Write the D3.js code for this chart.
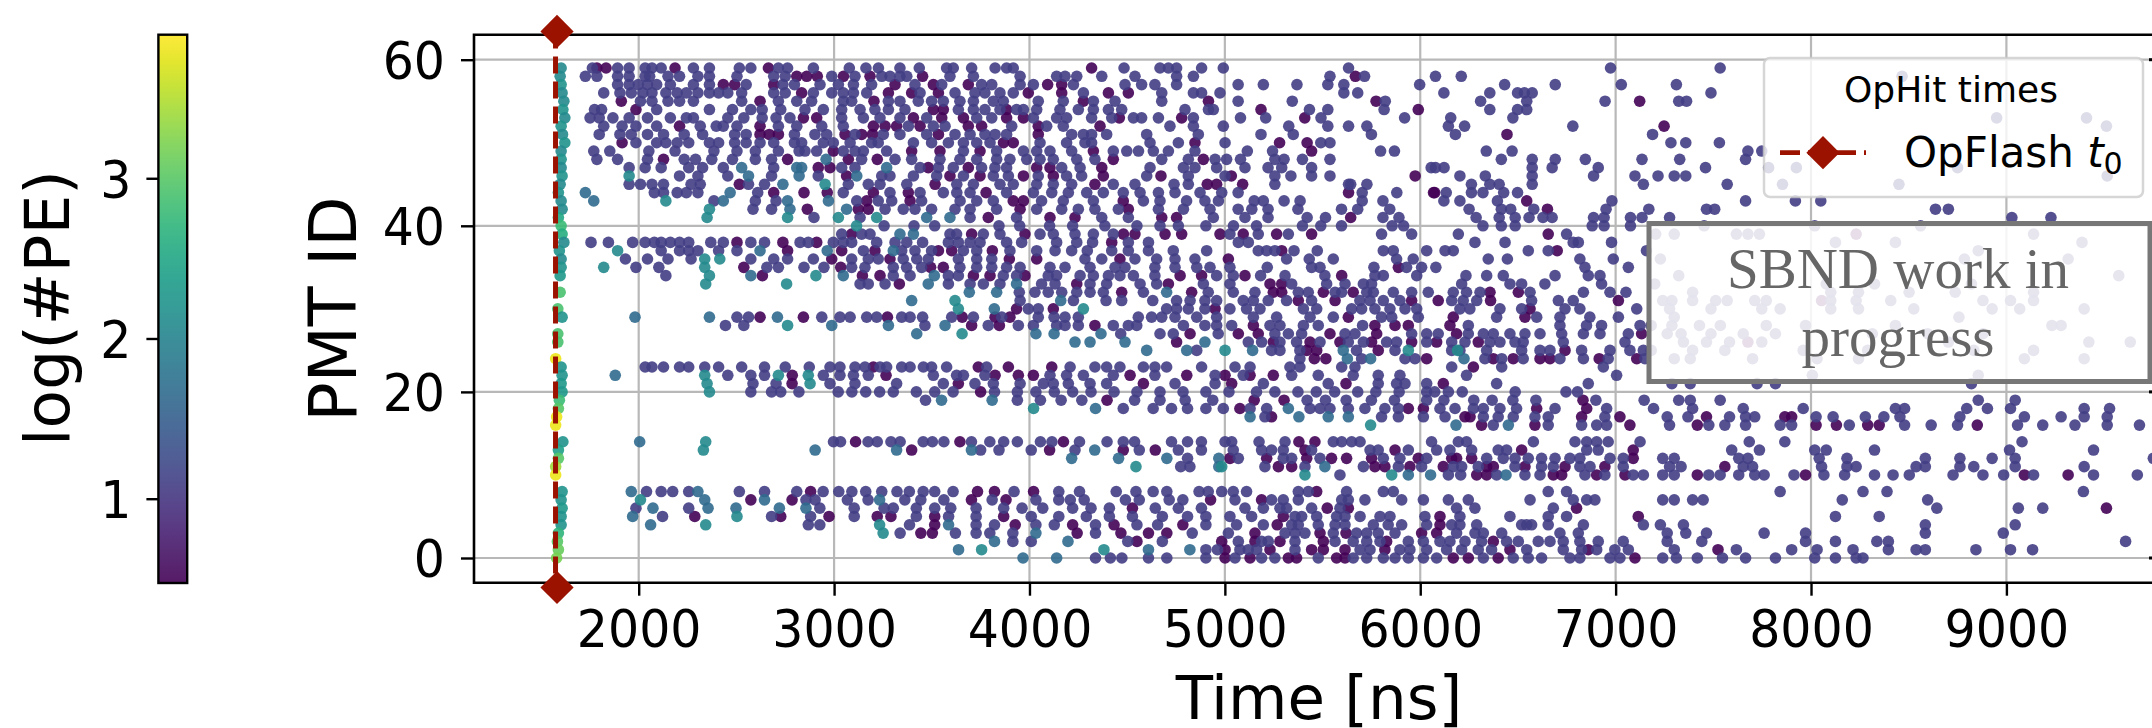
<!DOCTYPE html>
<html><head><meta charset="utf-8">
<script src="https://cdn.jsdelivr.net/npm/d3@7"></script>
<style>html,body{margin:0;padding:0;background:#fff}svg{display:block}text{font-family:"DejaVu Sans";fill:#000}</style>
</head><body><svg id="c" width="2152" height="728"></svg>
<script>
// [PMT id, hit times in ns...]
const mainHits = [
[59,1763,1892,1951,2033,2068,2115,2280,2362,2515,2574,2715,2762,2894,3078,3163,3227,3337,3436,3576,3610,3704,3824,3883,3917,4484,4668,4711,4753,4881,4992,5633,6974,7535],
[58,1727,1786,1892,1951,2033,2056,2150,2209,2303,2362,2503,2691,2750,2988,3107,3244,3286,3337,3372,3593,3713,3952,4139,4182,4242,4370,4540,4753,4839,5538,5715,6078,6210,8466],
[57,1892,1951,1998,2045,2092,2162,2280,2362,2550,2738,2797,2928,3022,3099,3192,3414,3551,3755,3807,3952,4020,4225,4489,4574,4642,4753,5068,5197,5369,5527,5609,5997,6432,6691,7029,7311],
[56,1821,1904,1962,2021,2068,2139,2197,2244,2303,2362,2409,2456,2527,2691,2750,2894,2988,3047,3099,3167,3440,3619,3721,3772,3849,3917,4276,4677,4839,4881,4975,5609,5680,6121,6356,6498,6533,6573,7488],
[55,2009,2068,2150,2209,2280,2527,2715,2809,2885,3047,3090,3278,3337,3431,3499,3559,3644,3713,3815,3866,4045,4173,4327,4438,4677,5068,5345,5821,6309,6545,6946,7323,7363],
[54,1774,1810,2092,2362,2480,2574,2632,2727,2851,2945,3039,3133,3209,3278,3363,3636,3713,3772,3849,3934,3969,4037,4156,4250,4327,4404,4472,4796,4916,4941,5433,5527,5815,6356,6498,6545],
[53,1751,1798,1868,1951,2045,2162,2244,2280,2456,2538,2632,2703,2774,3039,3150,3235,3337,3474,3730,3807,4020,4139,4190,4318,4421,4532,4574,4660,4839,5080,5209,5492,5920,6156,6474,8950,9410],
[52,1821,1915,1986,2092,2315,2397,2433,2503,2715,2809,2937,3047,3380,3508,3568,3909,4088,4173,4719,4839,4992,5327,5527,5633,5727,6144,6227,6781,9512],
[51,1798,1904,1962,2045,2127,2233,2327,2491,2550,2797,2902,2962,3107,3252,3337,3474,3619,3696,3772,3824,3883,4216,4276,4318,4395,4600,4864,5185,5350,5750,6180,7189],
[50,1986,2092,2139,2197,2256,2362,2409,2491,2550,2621,2691,2797,2834,2945,2996,3082,3192,3226,3406,3499,3585,3662,3730,3798,4054,4190,4284,4318,4617,4762,5001,5538,5491,7283,7359,7531],
[49,1770,1852,2052,2186,2385,2503,2597,2715,2821,2851,2911,3047,3107,3150,3269,3662,3832,3969,4037,4105,4216,4429,4498,4558,4634,4711,4847,5115,5244,5797,5868,6338,6470,7677,7748],
[48,1786,1892,2045,2233,2291,2374,2480,2597,2680,3141,3312,3397,3542,3644,3730,3832,3900,3986,4054,4122,4242,4335,4677,4813,4950,5009,5080,5256,5303,5397,5538,6415,6573,6691,6845,7135,7328,7665],
[47,1951,2033,2115,2256,2327,2433,2691,3039,3107,3440,3534,3610,3755,3823,3883,4165,4259,4617,4788,4847,4958,5103,5221,5291,5444,6056,6078,6122,6573,6675,6911,7460,7783,7925,8750],
[46,2209,2303,2456,2680,2919,3244,3286,3406,3525,3662,3815,3892,4045,4190,4267,4600,4813,5001,5256,5338,5444,5538,6203,6333,6573,6887,7099,7217,7300,7359,9516],
[45,1951,2009,2068,2127,2268,2315,2562,2644,3073,3175,3235,3372,3628,3713,3849,3917,4037,4122,4216,4429,4540,4740,4813,5256,5633,5727,5644,6262,6356,6404,6573,7142,7571,7854,8450],
[44,2080,2127,2197,2244,2303,2609,3047,3286,3440,3559,3628,3696,3883,4020,4114,4199,4293,4378,4480,4566,4660,4745,4873,4984,5068,5703,5880,6133,6262,6321,6427,6498],
[43,2385,2597,2703,3116,3226,3295,3448,3645,3730,3815,4062,4173,4327,4583,4668,4804,4898,4967,5150,5197,5303,5385,5703,5809,6121,6203,6395,6981,7665,7920,8050],
[42,2585,2680,3261,3354,3414,3499,3619,3696,3832,4037,4165,4250,4335,4455,4660,4788,4924,5068,5138,5221,5374,5597,5680,5844,6250,6415,6463,6581,6951,7170,7465,7507,8637,8703],
[41,2897,3133,3696,3934,4370,4506,4941,5103,5221,5421,5515,5809,5891,6286,6404,6486,6557,6628,6675,6887,6941,7076,7135,7276,9028,9228],
[40,3256,3409,3515,3844,3950,4103,4221,4386,4550,4668,4762,4903,5044,5162,5397,5491,5597,5856,5915,6321,6415,6486,6880,6941,7076,7453,8019,8561],
[39,3039,3141,3184,3593,3627,3764,3849,4054,4122,4233,4327,4429,5026,5171,5325,5802,5956,6195,6749,7205,7300,7618,7677,7736,9139],
[38,1756,1845,1969,2033,2080,2115,2162,2209,2256,2369,2433,2574,2644,2826,2868,2996,3047,3090,3218,3312,3372,3453,3585,3636,3696,3747,3883,3960,4139,4242,4323,4506,4609,5069,5120,6280,6434,6783,6809,6979,8125,8432,9387],
[37,2115,2209,2256,2303,2409,2503,3150,3346,3414,3499,3662,3730,3900,4037,4131,4216,4296,4421,4506,4609,4736,4907,5171,5214,5256,5354,5473,5811,5862,6033,6127,6169,6553,6655,7158,8856],
[36,1932,2045,2150,2268,2574,2691,2762,2894,3090,3175,3226,3354,3423,3482,3636,3730,3807,4284,4370,4540,4651,4745,4847,5316,5432,5555,5879,5964,6348,6446,6817,6988,7229,8785,9316],
[35,1986,2103,2656,2715,2846,2948,3090,3158,3303,3371,3448,3644,3730,3807,3883,3952,4105,4182,4310,4438,4489,4642,4745,4856,4924,5026,5217,5444,5487,5763,5930,6007,6080,6843,7065],
[34,2139,3303,3389,3585,3636,3866,3934,4096,4139,4259,4327,4404,4463,4532,4642,4958,5043,5183,5308,5512,5768,5811,5982,6234,6340,6425,6690,6860,6920,7323,9575],
[33,3133,3175,3261,3585,3696,3764,3849,4062,4131,4310,4395,4566,4651,4890,5026,5342,5521,5615,5709,5751,6212,6459,6519,6638,6928,7200,8078,8325,8821],
[32,3948,4028,4096,4165,4242,4310,4378,4583,4915,5043,5154,5376,5427,5564,5598,5726,5760,5862,5956,6041,6169,6237,6306,6562,6835,6971,7053,7394,8101,8243,8502,8738,9139],
[31,3952,4225,4392,4472,4631,4753,4822,4898,4958,5094,5146,5222,5316,5444,5691,5743,5811,5896,6161,6220,6289,6570,6707,6783,7241,7288,7394,7512,7571,7712,7771,8101,8231,8408,8880,9021,9139],
[30,3994,4045,4702,4753,4813,4898,5026,5111,5180,5402,5470,5649,5700,5768,5845,5922,5982,6203,6254,6408,6519,6741,6817,7108,7276,7488,7748,7842,8101,8243,8526,8927,9068,9398],
[29,2503,2562,2937,3030,3082,3167,3218,3346,3389,3453,3602,3713,3858,4045,4126,4182,4250,4557,4625,4677,4745,4856,4958,5146,5265,5436,5555,5802,5854,5990,6391,6596,6715,6868,7014,7300,8757],
[28,2444,2538,3465,3789,3943,4020,4139,4182,4250,4429,4506,4549,4788,4898,4958,5035,5231,5282,5402,5478,5705,6246,6715,6851,6928,7125,7182,7288,7429,7536,7771,7972,8432,9233,9280],
[27,4467,4668,4736,4966,5256,5325,5393,5615,5666,5956,6033,6092,6246,6323,6374,6459,6536,6613,6724,6835,6920,7065,7264,7335,7488,7653,7818,8314,8597,8880],
[26,5120,5188,5282,5367,5487,5632,5709,5828,5879,6033,6161,6229,6357,6408,6485,6527,6732,7048,7347,7465,7583,7748,8703,9422,9634],
[25,4856,5239,5282,5384,5674,5871,6161,6203,6340,6519,6613,6664,6826,6971,7073,7142,7182,7394,7559,7960,8290,8833,9139],
[24,5384,5700,5922,5973,6331,6417,6527,6715,6835,6962,7150,7300,7382,7701,8031,8243,9092,9398],
[23,2033,2068,2127,2209,2256,2338,2409,2527,2644,2750,2873,2979,3030,3107,3158,3235,3269,3346,3389,3457,3499,3576,3781,4208,4335,4395,4463,4583,4642,4702,4881,5052,5129,5333,5384,5598,5666,6161,6417,6937],
[22,2456,2574,2644,2945,3030,3099,3175,3508,3627,3662,3772,4105,4190,4276,4429,4642,4950,5094,5342,5478,5657,5785,5896,6237,7005,8007,8856],
[21,2585,2703,2979,3107,3320,3559,3721,3815,3952,4071,4122,4199,4310,4395,4745,4950,5197,5529,5785,5879,5922,6033,6391,6860,7288,7382,7724,7818,8821],
[20,2574,2680,2727,2820,3021,3091,3162,3233,3303,3421,3515,3609,3821,3938,4033,4127,4221,4315,4433,4550,4668,4786,4903,5021,5162,5256,5374,5468,5562,5680,5773,5892,6033,6074,6144,6215,6486,6746,6805],
[19,3468,3938,4056,4162,4268,4538,4668,4797,4938,5421,5515,5621,5750,5868,6033,6121,6274,6368,6474,6592,6899,7146,7323,7382,7535,8856,9045],
[18,4480,4633,4727,4809,4903,4992,5129,5214,5436,5487,5538,5632,5717,5819,5888,6101,6178,6272,6323,6408,6493,6690,6954,7194,7394,7653,7960,8432,8479,8797,8903,9021,9398,9528],
[17,5205,5802,5888,6016,6127,6323,6399,6476,6587,6655,6945,7264,7370,7583,7665,7712,8026,8113,8278,8373,8455,8762,9092,9280,9398,9516],
[16,6374,6655,6826,6903,6954,7276,7477,7559,7665,7842,7901,8196,8479,8615,8750,9057,9186,9351,9516,9681],
[14,2997,3033,3174,3221,3291,3338,3456,3503,3562,3703,3797,3868,3938,4056,4115,4256,4397,4480,4538,4727,4809,4880,5001,5035,5175,5308,5555,5598,5649,5692,6058,6195,6237,6579,6792,6852,6903,6962,7125,7684,7866,9080],
[13,3750,3844,4009,4233,4562,4762,4880,5043,5188,5239,5299,5444,5743,5785,5939,6084,6152,6263,6399,6442,6852,6911,7594,7736,8019,8078,8325,9016,9446],
[12,4809,5069,5299,5342,5487,5811,5896,6033,6340,6425,6485,6553,6621,6690,6766,6817,6971,7039,7241,7300,7630,7677,8042,8184,8585,8762,8927,9045,9752],
[11,4774,4821,5205,5410,5709,5888,6007,6169,6212,6297,6485,6621,6681,6817,6869,7039,7276,7335,7653,7701,8054,8184,8231,8538,8585,8762,8833,9045,9398],
[10,5589,6144,6207,6391,6536,6613,6843,6945,7090,7142,7241,7300,7477,7535,7630,7712,7760,7913,8066,8172,8325,8420,8503,8727,8880,8986,9139,9446,9670],
[8,2040,2115,2174,2256,2515,2644,2809,2944,3024,3091,3162,3244,3322,3385,3456,3515,3609,3921,4150,4256,4444,4545,4633,4703,4868,4915,4984,5043,5111,5376,5427,5623,5811,5862,6655,6749,7842,8266,8389,9394],
[7,2856,2903,3068,3174,3362,3444,3562,3809,4033,4150,4209,4280,4491,4562,4715,4785,5052,5239,5299,5376,5598,5632,5717,5905,6016,6144,6246,6562,6783,6852,6894,7241,7300,7394,7448,8160,8597],
[6,1986,2256,2927,3103,3256,3303,3421,3515,3597,3727,3868,3962,4068,4221,4315,4409,4644,4762,4880,5103,5197,5282,5316,5444,5589,6186,6280,6681,8644,9061,9186],
[5,2122,2680,2880,3103,3421,3586,3727,4009,4150,4291,4409,4527,4680,4809,4903,5026,5137,5359,5393,5470,5572,5615,5692,5794,5845,6024,6203,6459,6655,6749,8125,8349],
[4,2868,2927,3386,3727,3821,4033,4127,4338,4550,4656,4903,5060,5197,5342,5376,5478,5564,5615,5760,5836,5905,6033,6161,6203,6289,6519,6545,6570,6655,6835,7142,7229,7347,8585,9045],
[3,3338,3621,3727,3797,3915,4338,4833,5018,5308,5359,5410,5555,5674,5726,5785,5871,6186,6280,6323,6417,6715,6809,7264,7359,7465,7760,7972,8585,8984],
[2,3915,4009,4503,4680,5069,5188,5222,5359,5564,5657,5726,5794,5939,6016,6101,6152,6229,6314,6442,6502,6604,6664,6732,6817,6911,7039,7264,7441,7972,8125,8337,8396,9610],
[1,4903,4962,5077,5120,5163,5359,5692,5743,5896,5947,6033,6135,6212,6297,6365,6545,6732,6826,6903,6996,7065,7300,7618,7901,8031,8215,8396,8538,8585,8844,9021,9134],
[0,4338,4414,4473,4609,4703,4903,5052,5188,5256,5478,5657,5726,5811,5871,5939,6016,6084,6323,6476,6553,6621,6766,6817,6971,7022,7241,7311,7418,7547,7665,7818,8019,8125,8231,8266]
];
const lowHits = [
[59,1786,1833,2186,2664,4318],
[58,2809,2860,2914,3048,3184,3453,5668],
[57,2433,2491,2691,3312,3508,3687,4093,4165],
[56,2834,3278,3397,3534,3994,4165,4404,4506],
[55,1911,2621,3204,4276,4916,5774,7123],
[54,1986,3508,3559,3883,5185,5990],
[53,2843,2911,3406,3551,3662,3883,3969,4460,4779,5409],
[52,2209,2621,3201,3261,3320,3440,3687,3755,4045,4361,7248],
[51,2621,2668,2715,3056,3141,3197,3534,4045,6444],
[50,1915,3867,3917,4847,5280,5421],
[49,2996,3397,3542,3747,4327,5444],
[48,2127,2762,3073,3221,4429,4890],
[47,2919,2979,3482,3687,4037,4105,4370],
[46,3064,3593,3747,3969,4122,4378,4673,5033,5974],
[45,2515,3517,4335,4910,4958,5091],
[44,2691,2846,2965,3201,3380,3778,5633,6068,6074],
[43,3167,3389,3917,3969,4480,6545],
[42,2863,3124,3175,3952,4506,6651],
[41,3789,4105,4233,4677,4753,5644],
[39,3090,3704,3977,4481,4540,4694,4779,4975,5094,5265,5444,6655,8231],
[38,2503,2738,2911,4421],
[37,2762,3039,3209,3534,3602,3810,5291,6701],
[36,2988,3286,3897,4037,4463,5018],
[35,2538,3034,3494,3559,5888],
[34,2633,3145,3235,3713,3798,3977,4771,4881,5103,5598],
[33,3334,4242,4711,5231,5291],
[32,4472,4830,5248,5291,5504,5657,6357,6502],
[31,5376,5564,5956,6092,6360,7014,8054],
[30,3934,4122,4950,6562],
[29,2621,2843,3273,3656,3824,3900,5632,6169,6536],
[28,3704,3846,4335,5146,5768,5871,5939,6152],
[27,4822,5069,5171,5538,5777,6186,7133],
[26,4753,5248,5436,5589,5751,5956,6084,6297,7677],
[25,5419,5470,5785,6741],
[24,5458,5517,6033,6374,6476,6613,6664,6916,7108],
[23,3201,3738,3892,4114,6272],
[22,2786,3266,3824,3943,4020,4515,4805,5001,5129,5248],
[21,2785,3636,4583,5035,5620,6118],
[20,3750],
[19,4397,5150,5303,6833],
[18,5077,5939,6016,6596,6852],
[17,5239,6229,6255,6826,7022,7465,7866,7901],
[16,6314,6587,7073,7418,8026,8130,8290,8349,8851],
[14,3110,3644,4174,5379,5461],
[13,3397,4103,4480,4644,5410,5871,6519,7090],
[12,5026,5214,5419,5546,5623,5751,5990,6161,6186,6263,7090],
[11,5274,5342,5768,5819,5947,6118,6340,6374,6536,6741,6945,7559],
[10,6289,6340,6681,6724,6903,7048,7418,7972,9092,9316],
[8,2880,3734,3821,4021,5470],
[7,2574,2785,3703,3880,4927,5188],
[6,4527,5524,5632,6800,9512],
[5,2287,2727,2974,3221,3291,3515,3868,5299,6101,7116],
[4,3515,3927,4221,4433,4785,5268,6101],
[3,3444,3503,4244,4468,4609,4703,5154,5487,5620,6007,6084],
[2,4550,4984,5154,5282,5504,5828,6374],
[1,5001,5231,5444,5504,5615,5819,6459,6860,7524],
[0,5001,5129,5325,5367,5572,5615,6169,6246,6399,7099]
];
const midHits = [
[48,2959],[47,2527,2809,2834,3269],[46,2562,2821,3116],[45,2738],[44,1727,2468],[43,1770,2433,2762,2971],[42,2774,3064],[41,3474,3593],
[39,3337,3406],[37,2621,2965,3303],[34,2574,3047,3513],[33,3482,3934],[32,3692,3832,4702],[31,3397,4160],[30,3820],[29,1981,2362,2710],[28,2988,3278,3568],
[27,3423,4033,4126,4366],[26,4233,4310,4489,4898],[25,4600,4805,5142,5606],[24,5627,5746,6224],[22,1880],[19,3550,3809],[18,4338,5325],[17,5129,5379,5529,5632],[16,6183,6451],[14,2005],[13,2903,3320,3703,4334],
[12,4216,4456,4703,4969],[11,4969,5512],[10,5939,6053,6439],[8,1962,2303],[7,2338,2644,3233],[6,2073,2355,2498,2720,2856],[5,1969],[4,2061,3586],[3,4033],
[2,3821,4197],[1,3637,4609,4821],[0,3967,4139]
];
const highHits = [
[46,1951],[45,2954],[43,2139],[42,2362],[41,2350,2762,3022,3218],[40,3115],[37,1892],[36,2338,2415],[35,1821,2338],[34,2362,2907],[33,2343,2757],[31,3619],[30,3636,4276],
[28,2762],[27,3655],[25,5001,5939,6191],[22,2338,2715,2868],[21,2350,2877],[20,2362],[18,4021],[16,5746],[14,2343],[13,2331],[11,4545,4984],[10,5410,5854],
[7,2009],[5,2503],[4,2343,3233],[3,3251],[1,3755,4381]
];
const promptIds  = [59,58,57,56,55,54,53,52,51,50,49,48,47,46,45,44,43,42,41,40,39,38,37,36,35,34,32,30,29,27,26,24,23,22,21,20,19,18,17,16,14,13,12,11,10,8,7,6,5,4,3,2,1,0];
const promptTime = [1603,1598,1603,1608,1617,1612,1622,1603,1610,1622,1603,1603,1603,1608,1598,1589,1603,1608,1589,1603,1608,1617,1594,1603,1603,1598,1598,1586,1608,1586,1586,1575,1603,1608,1603,1608,1594,1589,1580,1575,1612,1589,1589,1575,1575,1608,1603,1608,1603,1603,1589,1584,1589,1580];
const promptLog  = [2.1,2.1,2.2,2.1,2.1,2.2,2.1,2.2,2.1,2.2,2.1,2.2,2.1,2.2,2.1,2.2,2.1,2.1,2.5,2.8,2.6,2.1,2.2,2.1,2.2,2.3,2.9,2.9,2.2,2.9,2.9,3.8,2.2,2.2,2.3,2.3,2.8,3.0,3.8,3.8,2.2,2.4,3.0,3.4,3.8,2.2,2.2,2.3,2.2,2.2,2.7,3.0,3.1,3.2];
const flashTime = 1582;
const flashY = [-3.55, 63.4];
const xTicks = [2000,3000,4000,5000,6000,7000,8000,9000];
const yTicks = [0,20,40,60];
const cbTicks = [1,2,3];
const cbDomain = [0.474,3.896];
const labelFill = "#9b1300";

const svg = d3.select("#c");
const x = d3.scaleLinear().domain([2000,9000]).range([638.7,2006.4]);
const y = d3.scaleLinear().domain([0,60]).range([558,59.7]);
const cb = d3.scaleLinear().domain(cbDomain).range([583,34.7]);
const color = v => d3.interpolateViridis((v-cbDomain[0])/(cbDomain[1]-cbDomain[0]));
const plot = {l:474,t:34.7,b:582.7,r:2152};
const stretch = "scale(1,1.07)";

// colour bar
const defs = svg.append("defs");
const grad = defs.append("linearGradient").attr("id","vir").attr("x1",0).attr("x2",0).attr("y1",1).attr("y2",0);
d3.range(0,1.0001,0.05).forEach(s=>grad.append("stop").attr("offset",s).attr("stop-color",d3.interpolateViridis(s)));
svg.append("rect").attr("x",158.4).attr("y",cb.range()[1]).attr("width",28.8).attr("height",cb.range()[0]-cb.range()[1])
  .attr("fill","url(#vir)").attr("fill-opacity",.9).attr("stroke","#000").attr("stroke-width",2.4);
const gcb = svg.append("g").attr("transform","translate(158.4,0)").call(d3.axisLeft(cb).tickValues(cbTicks).tickSize(12).tickPadding(15).tickFormat(d3.format("d")));
gcb.select(".domain").remove();
gcb.selectAll("line").attr("stroke-width",2.4);
gcb.selectAll("text").style("font-size","49px").attr("dy","0.36em").attr("transform",stretch);
svg.append("text").attr("transform","translate(69,308) rotate(-90)").attr("text-anchor","middle").style("font-size","63px").text("log(#PE)");

// grid
const grid = svg.append("g").attr("stroke","#b8b8b8").attr("stroke-width",2.2);
grid.selectAll(".gx").data(xTicks).join("line").attr("x1",d=>x(d)).attr("x2",d=>x(d)).attr("y1",plot.t).attr("y2",plot.b);
grid.selectAll(".gy").data(yTicks).join("line").attr("y1",d=>y(d)).attr("y2",d=>y(d)).attr("x1",plot.l).attr("x2",plot.r);

// hits
const clip = defs.append("clipPath").attr("id","pc").append("rect").attr("x",plot.l).attr("y",plot.t).attr("width",plot.r-plot.l).attr("height",plot.b-plot.t);
const gh = svg.append("g").attr("clip-path","url(#pc)");
const dotR = 5.8;
function draw(rows, logv){
  const pts = rows.flatMap(r=>r.slice(1).map(t=>({id:r[0],t})));
  gh.append("g").attr("fill",color(logv)).attr("fill-opacity",.9)
    .selectAll("circle").data(pts).join("circle").attr("cx",d=>x(d.t)).attr("cy",d=>y(d.id)).attr("r",dotR);
}
draw(lowHits,0.5); draw(mainHits,1.1); draw(midHits,1.65); draw(highHits,2.1);
gh.append("g").attr("fill-opacity",.9).selectAll("circle").data(promptIds).join("circle")
  .attr("cx",(d,i)=>x(promptTime[i])).attr("cy",d=>y(d)).attr("r",dotR).attr("fill",(d,i)=>color(promptLog[i]));

// flash line
svg.append("line").attr("x1",x(flashTime)-1.5).attr("x2",x(flashTime)-1.5).attr("y1",y(flashY[1])).attr("y2",y(flashY[0]))
  .attr("stroke",labelFill).attr("stroke-width",5).attr("stroke-dasharray","17 8");
const dia = (cx,cy,h)=>`M${cx},${cy-h}L${cx+h},${cy}L${cx},${cy+h}L${cx-h},${cy}Z`;

// spines and axes
const frame = svg.append("g").attr("stroke","#000").attr("stroke-width",2.6).attr("fill","none");
frame.append("path").attr("d",`M${plot.r},${plot.t}H${plot.l}V${plot.b}H${plot.r}`);
const gx = svg.append("g").attr("transform",`translate(0,${plot.b})`).call(d3.axisBottom(x).tickValues(xTicks).tickSize(13).tickPadding(12).tickFormat(d3.format("d")));
gx.select(".domain").remove(); gx.selectAll("line").attr("stroke-width",2.4);
gx.selectAll("text").style("font-size","49px").attr("transform",stretch);
const gy = svg.append("g").attr("transform",`translate(${plot.l},0)`).call(d3.axisLeft(y).tickValues(yTicks).tickSize(13).tickPadding(16).tickFormat(d3.format("d")));
gy.select(".domain").remove(); gy.selectAll("line").attr("stroke-width",2.4);
gy.selectAll("text").style("font-size","49px").attr("dy","0.36em").attr("transform",stretch);
svg.append("g").selectAll("rect").data(yTicks).join("rect").attr("x",2149).attr("width",3).attr("height",3).attr("y",d=>y(d)-1.5).attr("fill","#000");
svg.append("text").attr("transform","translate(356,309) rotate(-90)").attr("text-anchor","middle").style("font-size","65px").text("PMT ID");
svg.append("text").attr("x",1319).attr("y",719).attr("text-anchor","middle").style("font-size","61px").text("Time [ns]");

// diamonds on the frame
flashY.forEach(v=>svg.append("path").attr("d",dia(x(flashTime),y(v),16.6)).attr("fill",labelFill));

// work-in-progress box
svg.append("rect").attr("x",1649).attr("y",223.5).attr("width",501).attr("height",158).attr("fill","#fff").attr("fill-opacity",.86)
  .attr("stroke","#777").attr("stroke-width",5);
svg.selectAll(".wip").data([["SBND work in",288],["progress",356]]).join("text")
  .attr("x",1898).attr("y",d=>d[1]).attr("text-anchor","middle").style("font-family","'Liberation Serif'").style("font-size","57px").style("fill","#666").text(d=>d[0]);

// legend
const leg = svg.append("g");
leg.append("rect").attr("x",1764).attr("y",58).attr("width",379).attr("height",139).attr("rx",6).attr("fill","#fff").attr("fill-opacity",.8).attr("stroke","#ccc").attr("stroke-opacity",.8).attr("stroke-width",2.5);
leg.append("text").attr("x",1951).attr("y",102).attr("text-anchor","middle").style("font-size","36px").text("OpHit times");
leg.append("line").attr("x1",1780).attr("x2",1866).attr("y1",152.7).attr("y2",152.7).attr("stroke",labelFill).attr("stroke-width",4.8).attr("stroke-dasharray","20 8");
leg.append("path").attr("d",dia(1823,152.7,16.6)).attr("fill",labelFill);
const lt = leg.append("text").attr("x",1904).attr("y",167).style("font-size","42px");
lt.append("tspan").text("OpFlash ");
lt.append("tspan").style("font-style","italic").text("t");
lt.append("tspan").attr("dy",7).style("font-size","30px").text("0");
</script></body></html>
